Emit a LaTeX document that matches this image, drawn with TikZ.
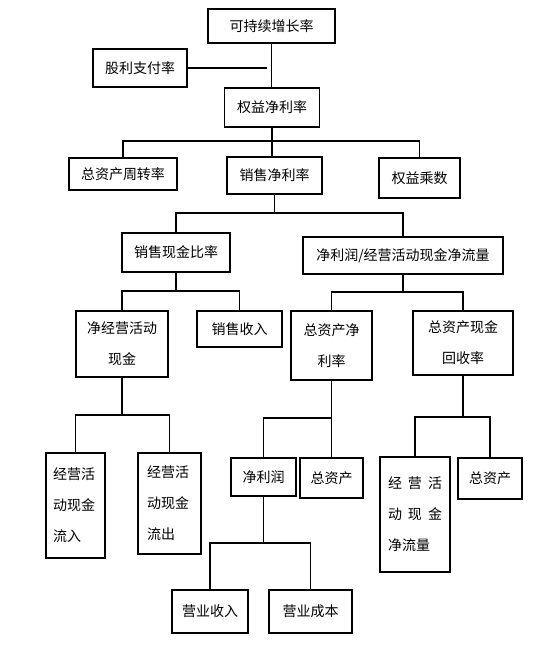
\documentclass[tikz,border=0pt]{standalone}
\usepackage{fontspec}
\newfontfamily\cjk{Noto Sans CJK SC}
\tikzset{
  box/.style={draw, line width=1.8pt, inner sep=0pt, align=center,
    font=\cjk\fontsize{14}{31}\selectfont},
  tallbox/.style={box, align=left, text width=45pt, inner xsep=7pt},
  link/.style={line width=1.8pt}
}
\begin{document}
\begin{tikzpicture}[x=1pt, y=-1pt]
  \useasboundingbox (0,0) rectangle (552,662);
  % top levels
  \node[box, minimum width=127pt, minimum height=34pt] (top) at (271.5,26) {可持续增长率};
  \node[box, minimum width=94pt, minimum height=38pt] (div) at (140,68) {股利支付率};
  \node[box, minimum width=95pt, minimum height=39pt] (roe) at (272,107.5) {权益净利率};
  \node[box, minimum width=108pt, minimum height=32pt] (tat) at (123,174) {总资产周转率};
  \node[box, minimum width=95pt, minimum height=37pt] (npm) at (274.5,175.5) {销售净利率};
  \node[box, minimum width=81pt, minimum height=40pt] (em) at (419.5,178) {权益乘数};
  % second levels
  \node[box, minimum width=108pt, minimum height=39pt] (scr) at (176,252.5) {销售现金比率};
  \node[box, minimum width=200pt, minimum height=37pt] (ratio) at (403,255.5) {净利润/经营活动现金净流量};
  \node[box, minimum width=92pt, minimum height=66pt] (nocf) at (122,344) {净经营活动\\现金};
  \node[box, minimum width=85pt, minimum height=36pt] (sales) at (239.5,329) {销售收入};
  \node[box, minimum width=81pt, minimum height=69pt] (roa) at (331.5,345.5) {总资产净\\利率};
  \node[box, minimum width=100pt, minimum height=64pt] (cfr) at (463,343) {总资产现金\\回收率};
  % bottom levels
  \node[tallbox, minimum height=105pt] (cin) at (75.5,505.5) {经营活\\动现金\\流入};
  \node[tallbox, inner xsep=9pt, minimum height=101pt] (cout) at (169.5,503.5) {经营活\\动现金\\流出};
  \node[box, minimum width=65pt, minimum height=38pt] (ni) at (263.5,477) {净利润};
  \node[box, minimum width=63pt, minimum height=40pt] (ta1) at (331.5,478) {总资产};
  \node[tallbox, text width=54pt, inner xsep=8pt, minimum height=115pt] (ncf) at (415,514.5)
    {经\hspace{6pt}营\hspace{6pt}活\\动\hspace{6pt}现\hspace{6pt}金\\净流量};
  \node[box, minimum width=64pt, minimum height=41pt] (ta2) at (490,478.5) {总资产};
  \node[box, minimum width=76pt, minimum height=43pt] (rev) at (210,611.5) {营业收入};
  \node[box, minimum width=83pt, minimum height=43pt] (cost) at (310.5,611.5) {营业成本};
  % bar heights
  \coordinate (b1) at (0,141);
  \coordinate (b2) at (0,213);
  \coordinate (b3) at (0,291);
  \coordinate (b4) at (0,292);
  \coordinate (b5) at (0,415);
  \coordinate (b6) at (0,418);
  \coordinate (b7) at (0,417);
  \coordinate (b8) at (0,543);
  % connectors
  \draw[link] (top.south) -- (top.south |- roe.north);
  \draw[link, shorten >=5pt] (div.east) -- (div.east -| top.south);
  \draw[link] (roe.south) -- (roe.south |- npm.north);
  \draw[link] (tat.north) |- (em.north |- b1) -- (em.north);
  \draw[link] (npm.south) -- (npm.south |- b2);
  \draw[link] (scr.north) |- (ratio.north |- b2) -- (ratio.north);
  \draw[link] (scr.south) -- (scr.south |- b3);
  \draw[link] (nocf.north) |- (sales.north |- b3) -- (sales.north);
  \draw[link] (ratio.south) -- (ratio.south |- b4);
  \draw[link] (roa.north) |- (cfr.north |- b4) -- (cfr.north);
  \draw[link] (nocf.south) -- (nocf.south |- b5);
  \draw[link] (cin.north) |- (cout.north |- b5) -- (cout.north);
  \draw[link] (roa.south) -- (roa.south |- ta1.north);
  \draw[link] (ni.north) |- (roa.south |- b6);
  \draw[link] (cfr.south) -- (cfr.south |- b7);
  \draw[link] (ncf.north) |- (ta2.north |- b7) -- (ta2.north);
  \draw[link] (ni.south) -- (ni.south |- b8);
  \draw[link] (rev.north) |- (cost.north |- b8) -- (cost.north);
\end{tikzpicture}
\end{document}
